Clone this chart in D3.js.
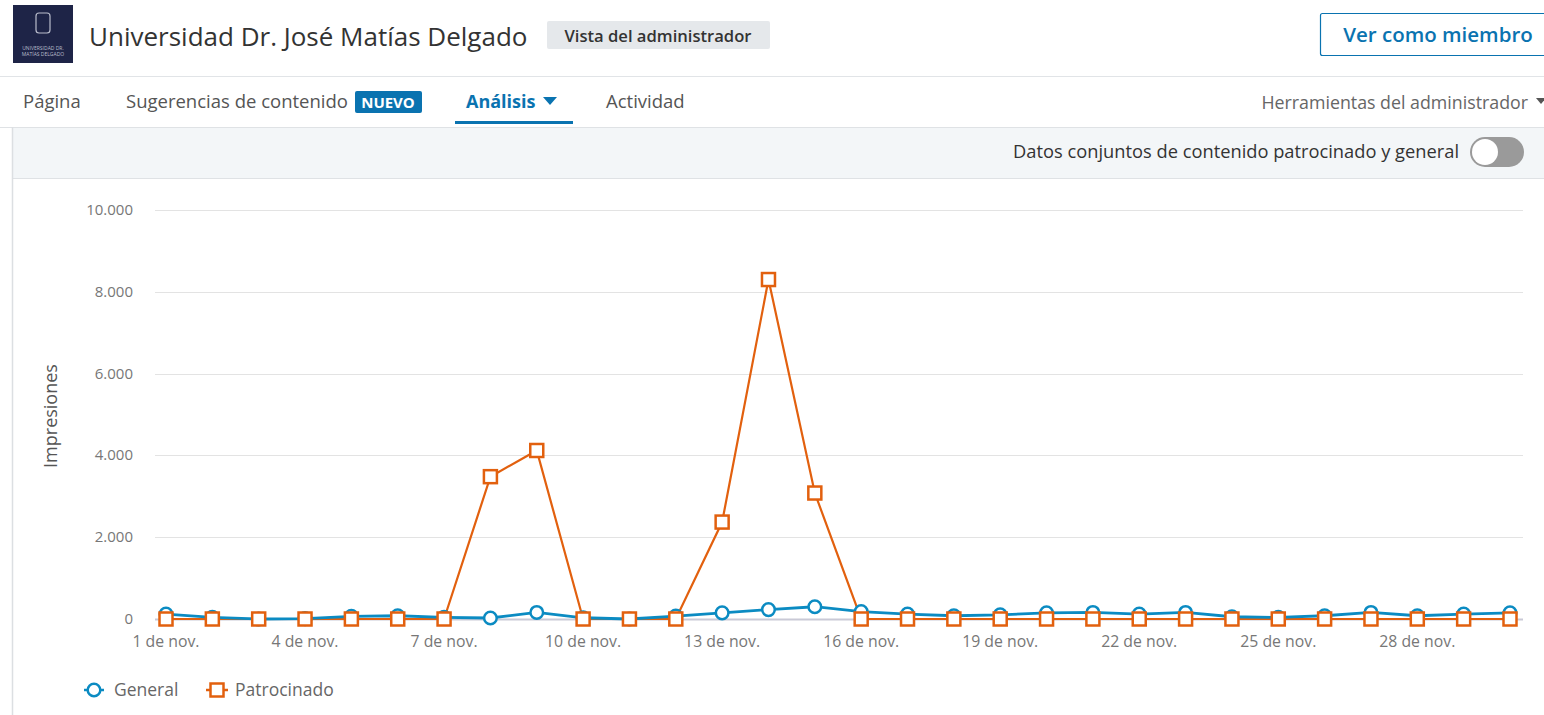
<!DOCTYPE html>
<html>
<head>
<meta charset="utf-8">
<script src="https://cdn.jsdelivr.net/npm/d3@7"></script>
<style>
  body { margin: 0; background: #fff; }
  svg { display: block; font-family: "Open Sans", "Noto Sans", sans-serif; }
</style>
</head>
<body>
<div id="chart"></div>
<script>
// days of november
const days = [1, 2, 3, 4, 5, 6, 7, 8, 9, 10, 11, 12, 13, 14, 15, 16, 17, 18, 19, 20, 21, 22, 23, 24, 25, 26, 27, 28, 29, 30];
const general = [120, 40, 0, 10, 65, 80, 40, 25, 160, 30, 0, 70, 150, 230, 300, 180, 120, 80, 100, 150, 160, 120, 160, 55, 40, 80, 160, 80, 120, 150];
const patrocinado = [0, 0, 0, 0, 0, 0, 0, 3480, 4120, 0, 0, 0, 2370, 8300, 3080, 0, 0, 0, 0, 0, 0, 0, 0, 0, 0, 0, 0, 0, 0, 0];
const xTickDays = [1, 4, 7, 10, 13, 16, 19, 22, 25, 28];
const xTickLabels = ["1 de nov.", "4 de nov.", "7 de nov.", "10 de nov.", "13 de nov.", "16 de nov.", "19 de nov.", "22 de nov.", "25 de nov.", "28 de nov."];
const yTicks = [0, 2000, 4000, 6000, 8000, 10000];
const tabs = ["Página", "Sugerencias de contenido", "Análisis", "Actividad"];

const W = 1544, H = 715;
const blue = "#0b8bc2", orange = "#e2600e";

var svg = d3.select("#chart").append("svg").attr("width", W).attr("height", H);

// ---- header ----
svg.append("rect").attr("x", 13).attr("y", 5).attr("width", 60).attr("height", 58).attr("fill", "#1e2447");
svg.append("rect").attr("x", 36).attr("y", 13).attr("width", 14).attr("height", 20).attr("rx", 3)
  .attr("fill", "none").attr("stroke", "#b9bccb").attr("stroke-width", 1.2);
svg.append("text").attr("x", 43).attr("y", 50).attr("text-anchor", "middle").attr("font-size", 5)
  .attr("fill", "#b9bccb").text("UNIVERSIDAD DR.");
svg.append("text").attr("x", 43).attr("y", 56).attr("text-anchor", "middle").attr("font-size", 5)
  .attr("fill", "#b9bccb").text("MATÍAS DELGADO");

svg.append("text").attr("x", 89).attr("y", 46).attr("font-size", 26).attr("fill", "#333")
  .text("Universidad Dr. José Matías Delgado");

svg.append("rect").attr("x", 547).attr("y", 21).attr("width", 223).attr("height", 28).attr("rx", 2).attr("fill", "#e5e8eb");
svg.append("text").attr("x", 658).attr("y", 42).attr("text-anchor", "middle").attr("font-size", 16.6)
  .attr("font-weight", 600).attr("fill", "#333").text("Vista del administrador");

svg.append("rect").attr("x", 1320.5).attr("y", 13.5).attr("width", 230).attr("height", 42).attr("rx", 2)
  .attr("fill", "#fff").attr("stroke", "#0a73b0").attr("stroke-width", 1.2);
svg.append("text").attr("x", 1438).attr("y", 42).attr("text-anchor", "middle").attr("font-size", 20.5)
  .attr("font-weight", 600).attr("fill", "#0a73b0").text("Ver como miembro");

svg.append("line").attr("x1", 0).attr("x2", W).attr("y1", 76.5).attr("y2", 76.5).attr("stroke", "#e1e4e7");

// ---- tabs ----
var tabX = [23, 126, 466, 606];
tabs.forEach(function (t, i) {
  svg.append("text").attr("x", tabX[i]).attr("y", 108).attr("font-size", i == 2 ? 18 : 18.5)
    .attr("font-weight", i == 2 ? 700 : 400)
    .attr("fill", i == 2 ? "#0a73b0" : "#555").text(t);
});
svg.append("rect").attr("x", 355).attr("y", 91).attr("width", 67).attr("height", 22).attr("rx", 2).attr("fill", "#0a73b0");
svg.append("text").attr("x", 388).attr("y", 108).attr("text-anchor", "middle").attr("font-size", 15)
  .attr("font-weight", 700).attr("fill", "#fff").text("NUEVO");
svg.append("path").attr("d", "M543,97 L557,97 L550,105 Z").attr("fill", "#0a73b0");
svg.append("rect").attr("x", 455).attr("y", 121).attr("width", 118).attr("height", 3).attr("fill", "#0a73b0");
svg.append("text").attr("x", 1528).attr("y", 109).attr("text-anchor", "end").attr("font-size", 17.8)
  .attr("fill", "#666").text("Herramientas del administrador");
svg.append("path").attr("d", "M1536,98 L1546,98 L1541,104 Z").attr("fill", "#555");

// ---- panel top bar ----
svg.append("rect").attr("x", 12).attr("y", 127).attr("width", W).attr("height", 51).attr("fill", "#f3f6f8");
svg.append("line").attr("x1", 0).attr("x2", W).attr("y1", 127.5).attr("y2", 127.5).attr("stroke", "#dfe2e5");
svg.append("line").attr("x1", 12).attr("x2", W).attr("y1", 178.5).attr("y2", 178.5).attr("stroke", "#dfe2e5");
svg.append("line").attr("x1", 12.5).attr("x2", 12.5).attr("y1", 127).attr("y2", H).attr("stroke", "#dcdfe2").attr("stroke-width", 1.5);
svg.append("text").attr("x", 1459).attr("y", 158).attr("text-anchor", "end").attr("font-size", 18.3)
  .attr("fill", "#333").text("Datos conjuntos de contenido patrocinado y general");
svg.append("rect").attr("x", 1470).attr("y", 137).attr("width", 54).attr("height", 30).attr("rx", 15).attr("fill", "#9a9a9a");
svg.append("circle").attr("cx", 1485).attr("cy", 152).attr("r", 13).attr("fill", "#fff");

// ---- chart ----
var x = d3.scaleLinear().domain([1, 30]).range([166, 1510]);
var y = d3.scaleLinear().domain([0, 10000]).range([619, 210]);
var fmt = d3.formatLocale({ decimal: ",", thousands: ".", grouping: [3], currency: ["", ""] }).format(",");

var g = svg.append("g");

g.selectAll(".grid").data(yTicks).enter().append("line")
  .attr("x1", 155).attr("x2", 1523)
  .attr("y1", function (d) { return Math.round(y(d)) + 0.5; })
  .attr("y2", function (d) { return Math.round(y(d)) + 0.5; })
  .attr("stroke", function (d) { return d == 0 ? "#c9c9d6" : "#e3e3e3"; })
  .attr("stroke-width", function (d) { return d == 0 ? 2 : 1; });

g.selectAll(".ylab").data(yTicks).enter().append("text")
  .attr("x", 133).attr("y", function (d) { return y(d) + 5; })
  .attr("text-anchor", "end").attr("font-size", 15).attr("fill", "#777")
  .text(function (d) { return fmt(d); });

g.append("text").attr("transform", "translate(57,416) rotate(-90)")
  .attr("text-anchor", "middle").attr("font-size", 18).attr("fill", "#555").text("Impresiones");

g.selectAll(".xlab").data(xTickDays).enter().append("text")
  .attr("x", function (d) { return x(d); }).attr("y", 647)
  .attr("text-anchor", "middle").attr("font-size", 15.8).attr("fill", "#777")
  .text(function (d, i) { return xTickLabels[i]; });

var lineGen = function (vals) {
  return d3.line().x(function (d, i) { return x(days[i]); }).y(function (d) { return y(d); })(vals);
};

g.append("path").attr("d", lineGen(patrocinado)).attr("fill", "none").attr("stroke", orange).attr("stroke-width", 2.2);
g.append("path").attr("d", lineGen(general)).attr("fill", "none").attr("stroke", blue).attr("stroke-width", 2.8);

g.selectAll(".gen").data(general).enter().append("circle")
  .attr("cx", function (d, i) { return x(days[i]); })
  .attr("cy", function (d) { return y(d); })
  .attr("r", 6.3).attr("fill", "#fff").attr("stroke", blue).attr("stroke-width", 2.5);

g.selectAll(".pat").data(patrocinado).enter().append("rect")
  .attr("x", function (d, i) { return x(days[i]) - 6.5; })
  .attr("y", function (d) { return y(d) - 6.5; })
  .attr("width", 13).attr("height", 13).attr("fill", "#fff").attr("stroke", orange).attr("stroke-width", 2.5);

// ---- legend ----
var leg = svg.append("g");
leg.append("line").attr("x1", 84).attr("x2", 104).attr("y1", 690).attr("y2", 690).attr("stroke", blue).attr("stroke-width", 2.5);
leg.append("circle").attr("cx", 94).attr("cy", 690).attr("r", 6.3).attr("fill", "#fff").attr("stroke", blue).attr("stroke-width", 2.5);
leg.append("text").attr("x", 114).attr("y", 696).attr("font-size", 17.5).attr("fill", "#666").text("General");
leg.append("line").attr("x1", 206).attr("x2", 228).attr("y1", 690).attr("y2", 690).attr("stroke", orange).attr("stroke-width", 2.5);
leg.append("rect").attr("x", 210.5).attr("y", 683.5).attr("width", 13).attr("height", 13).attr("fill", "#fff").attr("stroke", orange).attr("stroke-width", 2.5);
leg.append("text").attr("x", 235).attr("y", 696).attr("font-size", 17.5).attr("fill", "#666").text("Patrocinado");
</script>
</body>
</html>
